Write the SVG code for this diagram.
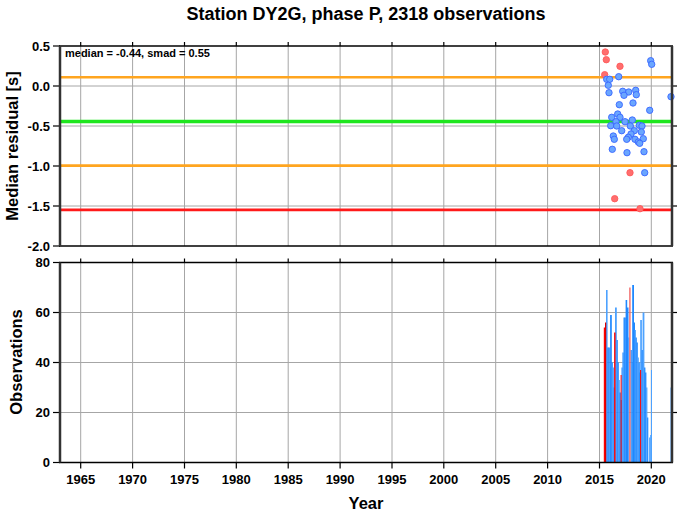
<svg xmlns="http://www.w3.org/2000/svg" width="678" height="511" viewBox="0 0 678 511">
<style>
text{font-family:"Liberation Sans",Arial,Helvetica,sans-serif;font-weight:bold;fill:#000}
.t{font-size:18px}
.lab{font-size:16.5px}
.tk{font-size:13px}
.note{font-size:11px}
.grid line{stroke:#a6a6a6;stroke-width:1}
.tick line{stroke:#000;stroke-width:1.2}
.fh{stroke:#000;stroke-width:1.5;fill:none}
.fv{stroke:#333;stroke-width:2.5;fill:none}
.pb{fill:#6aa6ff;stroke:#3a66ff;stroke-width:0.9}
.pr{fill:#ff6e6e;stroke:#ff5a5a;stroke-width:0.9}
.bb{fill:#1f88ff}
.bl{fill:#4da2ff}
.br{fill:#ff0000}
.brl{fill:#f26a6a}
</style>
<rect width="678" height="511" fill="#fff"/>
<text class="t" x="366" y="19.5" text-anchor="middle">Station DY2G, phase P, 2318 observations</text>

<!-- Top panel -->
<g id="top-panel">
<g class="grid">
<line x1="80.7" y1="46" x2="80.7" y2="246"/><line x1="132.6" y1="46" x2="132.6" y2="246"/><line x1="184.5" y1="46" x2="184.5" y2="246"/><line x1="236.3" y1="46" x2="236.3" y2="246"/><line x1="288.2" y1="46" x2="288.2" y2="246"/><line x1="340.1" y1="46" x2="340.1" y2="246"/><line x1="392" y1="46" x2="392" y2="246"/><line x1="443.8" y1="46" x2="443.8" y2="246"/><line x1="495.7" y1="46" x2="495.7" y2="246"/><line x1="547.6" y1="46" x2="547.6" y2="246"/><line x1="599.5" y1="46" x2="599.5" y2="246"/><line x1="651.3" y1="46" x2="651.3" y2="246"/>
<line x1="60" y1="86" x2="672" y2="86"/><line x1="60" y1="126" x2="672" y2="126"/><line x1="60" y1="166" x2="672" y2="166"/><line x1="60" y1="206" x2="672" y2="206"/>
</g>
<g id="ref-lines">
<line x1="60" y1="77.3" x2="672" y2="77.3" stroke="#ffa51f" stroke-width="2.6"/>
<line x1="60" y1="121.5" x2="672" y2="121.5" stroke="#1ee61e" stroke-width="3.4"/>
<line x1="60" y1="165.6" x2="672" y2="165.6" stroke="#ffa51f" stroke-width="2.6"/>
<line x1="60" y1="209.9" x2="672" y2="209.9" stroke="#ff1a1a" stroke-width="2.7"/>
</g>
<g id="points">
<circle class="pr" cx="605.3" cy="52" r="3.2"/><circle class="pr" cx="606.3" cy="59.7" r="3.2"/><circle class="pr" cx="620" cy="66.3" r="3.2"/><circle class="pr" cx="604.7" cy="74.7" r="3.2"/><circle class="pr" cx="630" cy="172.7" r="3.2"/><circle class="pr" cx="614.7" cy="198.7" r="3.2"/><circle class="pr" cx="640" cy="208.7" r="3.2"/>
<circle class="pb" cx="618.7" cy="76.7" r="3.2"/><circle class="pb" cx="606.7" cy="79.3" r="3.2"/><circle class="pb" cx="609.7" cy="79.3" r="3.2"/><circle class="pb" cx="608.3" cy="85.3" r="3.2"/><circle class="pb" cx="609" cy="92.7" r="3.2"/><circle class="pb" cx="622.7" cy="91.3" r="3.2"/><circle class="pb" cx="628.7" cy="92" r="3.2"/><circle class="pb" cx="624" cy="95.3" r="3.2"/><circle class="pb" cx="635.7" cy="90.3" r="3.2"/><circle class="pb" cx="636.3" cy="94.7" r="3.2"/><circle class="pb" cx="619.3" cy="104.7" r="3.2"/><circle class="pb" cx="633" cy="103" r="3.2"/><circle class="pb" cx="650.7" cy="60.7" r="3.2"/><circle class="pb" cx="651.7" cy="64.3" r="3.2"/><circle class="pb" cx="649.7" cy="110.3" r="3.2"/><circle class="pb" cx="671" cy="96.7" r="3.2"/>
<circle class="pb" cx="611.7" cy="117.3" r="3.2"/><circle class="pb" cx="617.7" cy="114" r="3.2"/><circle class="pb" cx="620" cy="117.3" r="3.2"/><circle class="pb" cx="616" cy="121.7" r="3.2"/><circle class="pb" cx="625" cy="121.7" r="3.2"/><circle class="pb" cx="632.3" cy="120" r="3.2"/><circle class="pb" cx="610.7" cy="125.7" r="3.2"/><circle class="pb" cx="616.7" cy="126" r="3.2"/><circle class="pb" cx="630.3" cy="126" r="3.2"/><circle class="pb" cx="639.3" cy="125.3" r="3.2"/><circle class="pb" cx="642" cy="126" r="3.2"/><circle class="pb" cx="613.3" cy="136" r="3.2"/><circle class="pb" cx="614.3" cy="139.3" r="3.2"/><circle class="pb" cx="621.7" cy="130.7" r="3.2"/><circle class="pb" cx="634.3" cy="130.7" r="3.2"/><circle class="pb" cx="641.3" cy="132" r="3.2"/><circle class="pb" cx="631" cy="134" r="3.2"/><circle class="pb" cx="628.3" cy="137.3" r="3.2"/><circle class="pb" cx="626.7" cy="139.3" r="3.2"/><circle class="pb" cx="635" cy="139.3" r="3.2"/><circle class="pb" cx="643.3" cy="138.7" r="3.2"/><circle class="pb" cx="638.3" cy="142" r="3.2"/><circle class="pb" cx="639.7" cy="143.3" r="3.2"/><circle class="pb" cx="612.3" cy="149.3" r="3.2"/><circle class="pb" cx="627" cy="152.7" r="3.2"/><circle class="pb" cx="644" cy="151.7" r="3.2"/><circle class="pb" cx="644.7" cy="172.7" r="3.2"/>
</g>
<g class="tick">
<line x1="53" y1="46" x2="60" y2="46"/><line x1="53" y1="86" x2="60" y2="86"/><line x1="53" y1="126" x2="60" y2="126"/><line x1="53" y1="166" x2="60" y2="166"/><line x1="53" y1="206" x2="60" y2="206"/><line x1="53" y1="246" x2="60" y2="246"/>
<line x1="672" y1="86" x2="677" y2="86"/><line x1="672" y1="126" x2="677" y2="126"/><line x1="672" y1="166" x2="677" y2="166"/><line x1="672" y1="206" x2="677" y2="206"/>
<line x1="80.7" y1="42" x2="80.7" y2="46"/><line x1="132.6" y1="42" x2="132.6" y2="46"/><line x1="184.5" y1="42" x2="184.5" y2="46"/><line x1="236.3" y1="42" x2="236.3" y2="46"/><line x1="288.2" y1="42" x2="288.2" y2="46"/><line x1="340.1" y1="42" x2="340.1" y2="46"/><line x1="392" y1="42" x2="392" y2="46"/><line x1="443.8" y1="42" x2="443.8" y2="46"/><line x1="495.7" y1="42" x2="495.7" y2="46"/><line x1="547.6" y1="42" x2="547.6" y2="46"/><line x1="599.5" y1="42" x2="599.5" y2="46"/><line x1="651.3" y1="42" x2="651.3" y2="46"/>
</g>
<line class="fh" x1="59" y1="46" x2="673" y2="46"/>
<line class="fh" x1="59" y1="246" x2="673" y2="246"/>
<line class="fv" x1="60" y1="46" x2="60" y2="246"/>
<line class="fv" x1="672" y1="46" x2="672" y2="246"/>
<g text-anchor="end">
<text class="tk" x="50" y="50.5">0.5</text><text class="tk" x="50" y="90.5">0.0</text><text class="tk" x="50" y="130.5">-0.5</text><text class="tk" x="50" y="170.5">-1.0</text><text class="tk" x="50" y="210.5">-1.5</text><text class="tk" x="50" y="250.5">-2.0</text>
</g>
<text class="note" x="65" y="57">median = -0.44, smad = 0.55</text>
<text class="lab" transform="translate(18,146) rotate(-90)" text-anchor="middle">Median residual [s]</text>
</g>

<!-- Bottom panel -->
<g id="bottom-panel">
<g class="grid">
<line x1="80.7" y1="262.5" x2="80.7" y2="462.5"/><line x1="132.6" y1="262.5" x2="132.6" y2="462.5"/><line x1="184.5" y1="262.5" x2="184.5" y2="462.5"/><line x1="236.3" y1="262.5" x2="236.3" y2="462.5"/><line x1="288.2" y1="262.5" x2="288.2" y2="462.5"/><line x1="340.1" y1="262.5" x2="340.1" y2="462.5"/><line x1="392" y1="262.5" x2="392" y2="462.5"/><line x1="443.8" y1="262.5" x2="443.8" y2="462.5"/><line x1="495.7" y1="262.5" x2="495.7" y2="462.5"/><line x1="547.6" y1="262.5" x2="547.6" y2="462.5"/><line x1="599.5" y1="262.5" x2="599.5" y2="462.5"/><line x1="651.3" y1="262.5" x2="651.3" y2="462.5"/>
<line x1="60" y1="312.5" x2="672" y2="312.5"/><line x1="60" y1="362.5" x2="672" y2="362.5"/><line x1="60" y1="412.5" x2="672" y2="412.5"/>
</g>
<g id="bars">
<rect class="bl" x="606" y="290" width="1.6" height="172.5"/>
<rect class="bb" x="607.3" y="347.5" width="1.4" height="115"/>
<rect class="bb" x="608.4" y="347.5" width="1.4" height="115"/>
<rect class="bl" x="609.5" y="367.5" width="1.2" height="95"/>
<rect class="bb" x="610.1" y="315" width="1.7" height="147.5"/>
<rect class="bb" x="611.5" y="362.5" width="1.3" height="100"/>
<rect class="bl" x="612.5" y="367.5" width="1.4" height="95"/>
<rect class="bb" x="613.5" y="387.5" width="1.2" height="75"/>
<rect class="bl" x="615" y="307.5" width="1.8" height="155"/>
<rect class="bb" x="616.5" y="340" width="1.3" height="122.5"/>
<rect class="bb" x="617.5" y="362.5" width="1.3" height="100"/>
<rect class="bl" x="618.5" y="380" width="1.3" height="82.5"/>
<rect class="bb" x="619.4" y="392.5" width="1.4" height="70"/>
<rect class="bb" x="620.5" y="400" width="1.4" height="62.5"/>
<rect class="bb" x="621.5" y="367.5" width="1.3" height="95"/>
<rect class="bl" x="622.3" y="352.5" width="1.5" height="110"/>
<rect class="bb" x="623.5" y="317.5" width="1.5" height="145"/>
<rect class="bl" x="624.7" y="317.5" width="1.3" height="145"/>
<rect class="bb" x="625.6" y="300" width="1.6" height="162.5"/>
<rect class="bb" x="626.8" y="307.5" width="1.7" height="155"/>
<rect class="bl" x="628.1" y="337.5" width="1.3" height="125"/>
<rect class="bb" x="630.5" y="350" width="1.3" height="112.5"/>
<rect class="bl" x="631.4" y="362.5" width="1.2" height="100"/>
<rect class="bb" x="632.2" y="285" width="1.8" height="177.5"/>
<rect class="bb" x="633.7" y="322.5" width="1.3" height="140"/>
<rect class="bl" x="634.6" y="330" width="1.3" height="132.5"/>
<rect class="bb" x="635.5" y="337.5" width="1.3" height="125"/>
<rect class="bb" x="636.5" y="342.5" width="1.3" height="120"/>
<rect class="bl" x="637.5" y="357.5" width="1.3" height="105"/>
<rect class="bb" x="638.5" y="362.5" width="1.3" height="100"/>
<rect class="bb" x="639.4" y="372.5" width="1.1" height="90"/>
<rect class="bl" x="640.2" y="320" width="1.7" height="142.5"/>
<rect class="bb" x="641.6" y="350" width="1.3" height="112.5"/>
<rect class="bl" x="642.6" y="312.5" width="1.8" height="150"/>
<rect class="bb" x="644.1" y="367.5" width="1.3" height="95"/>
<rect class="bb" x="645.1" y="372.5" width="1.3" height="90"/>
<rect class="bl" x="646.1" y="387.5" width="1.3" height="75"/>
<rect class="bb" x="647.1" y="417.5" width="1.2" height="45"/>
<rect class="bb" x="649.3" y="437.5" width="1" height="25"/>
<rect class="bl" x="650.2" y="435" width="1" height="27.5"/>
<rect class="bl" x="651" y="370" width="1" height="92.5"/>
<rect class="bb" x="670.6" y="387.5" width="1.2" height="75"/>
<rect class="br" x="603.8" y="327.5" width="1.6" height="135"/>
<rect fill="#d80000" x="605" y="322.5" width="1.2" height="140"/>
<rect class="br" x="614.1" y="332.5" width="1.4" height="130"/>
<rect class="br" x="620.6" y="375" width="1" height="87.5"/>
<rect class="brl" x="629.2" y="287.5" width="1.4" height="175"/>
<rect class="br" x="640.1" y="370" width="1" height="92.5"/>
</g>
<g class="tick">
<line x1="53" y1="262.5" x2="60" y2="262.5"/><line x1="53" y1="312.5" x2="60" y2="312.5"/><line x1="53" y1="362.5" x2="60" y2="362.5"/><line x1="53" y1="412.5" x2="60" y2="412.5"/><line x1="53" y1="462.5" x2="60" y2="462.5"/>
<line x1="672" y1="312.5" x2="677" y2="312.5"/><line x1="672" y1="362.5" x2="677" y2="362.5"/><line x1="672" y1="412.5" x2="677" y2="412.5"/>
<line x1="80.7" y1="258.5" x2="80.7" y2="262.5"/><line x1="132.6" y1="258.5" x2="132.6" y2="262.5"/><line x1="184.5" y1="258.5" x2="184.5" y2="262.5"/><line x1="236.3" y1="258.5" x2="236.3" y2="262.5"/><line x1="288.2" y1="258.5" x2="288.2" y2="262.5"/><line x1="340.1" y1="258.5" x2="340.1" y2="262.5"/><line x1="392" y1="258.5" x2="392" y2="262.5"/><line x1="443.8" y1="258.5" x2="443.8" y2="262.5"/><line x1="495.7" y1="258.5" x2="495.7" y2="262.5"/><line x1="547.6" y1="258.5" x2="547.6" y2="262.5"/><line x1="599.5" y1="258.5" x2="599.5" y2="262.5"/><line x1="651.3" y1="258.5" x2="651.3" y2="262.5"/>
<line x1="80.7" y1="462.5" x2="80.7" y2="468.5"/><line x1="132.6" y1="462.5" x2="132.6" y2="468.5"/><line x1="184.5" y1="462.5" x2="184.5" y2="468.5"/><line x1="236.3" y1="462.5" x2="236.3" y2="468.5"/><line x1="288.2" y1="462.5" x2="288.2" y2="468.5"/><line x1="340.1" y1="462.5" x2="340.1" y2="468.5"/><line x1="392" y1="462.5" x2="392" y2="468.5"/><line x1="443.8" y1="462.5" x2="443.8" y2="468.5"/><line x1="495.7" y1="462.5" x2="495.7" y2="468.5"/><line x1="547.6" y1="462.5" x2="547.6" y2="468.5"/><line x1="599.5" y1="462.5" x2="599.5" y2="468.5"/><line x1="651.3" y1="462.5" x2="651.3" y2="468.5"/>
</g>
<line class="fh" x1="59" y1="262.5" x2="673" y2="262.5"/>
<line class="fh" x1="59" y1="462.5" x2="673" y2="462.5"/>
<line class="fv" x1="60" y1="262.5" x2="60" y2="462.5"/>
<line class="fv" x1="672" y1="262.5" x2="672" y2="462.5"/>
<g text-anchor="end">
<text class="tk" x="50" y="267">80</text><text class="tk" x="50" y="317">60</text><text class="tk" x="50" y="367">40</text><text class="tk" x="50" y="417">20</text><text class="tk" x="50" y="467">0</text>
</g>
<g text-anchor="middle">
<text class="tk" x="80.7" y="484">1965</text><text class="tk" x="132.6" y="484">1970</text><text class="tk" x="184.5" y="484">1975</text><text class="tk" x="236.3" y="484">1980</text><text class="tk" x="288.2" y="484">1985</text><text class="tk" x="340.1" y="484">1990</text><text class="tk" x="392" y="484">1995</text><text class="tk" x="443.8" y="484">2000</text><text class="tk" x="495.7" y="484">2005</text><text class="tk" x="547.6" y="484">2010</text><text class="tk" x="599.5" y="484">2015</text><text class="tk" x="651.3" y="484">2020</text>
</g>
<text class="lab" x="366" y="509" text-anchor="middle">Year</text>
<text class="lab" transform="translate(22,362) rotate(-90)" text-anchor="middle">Observations</text>
</g>
</svg>
